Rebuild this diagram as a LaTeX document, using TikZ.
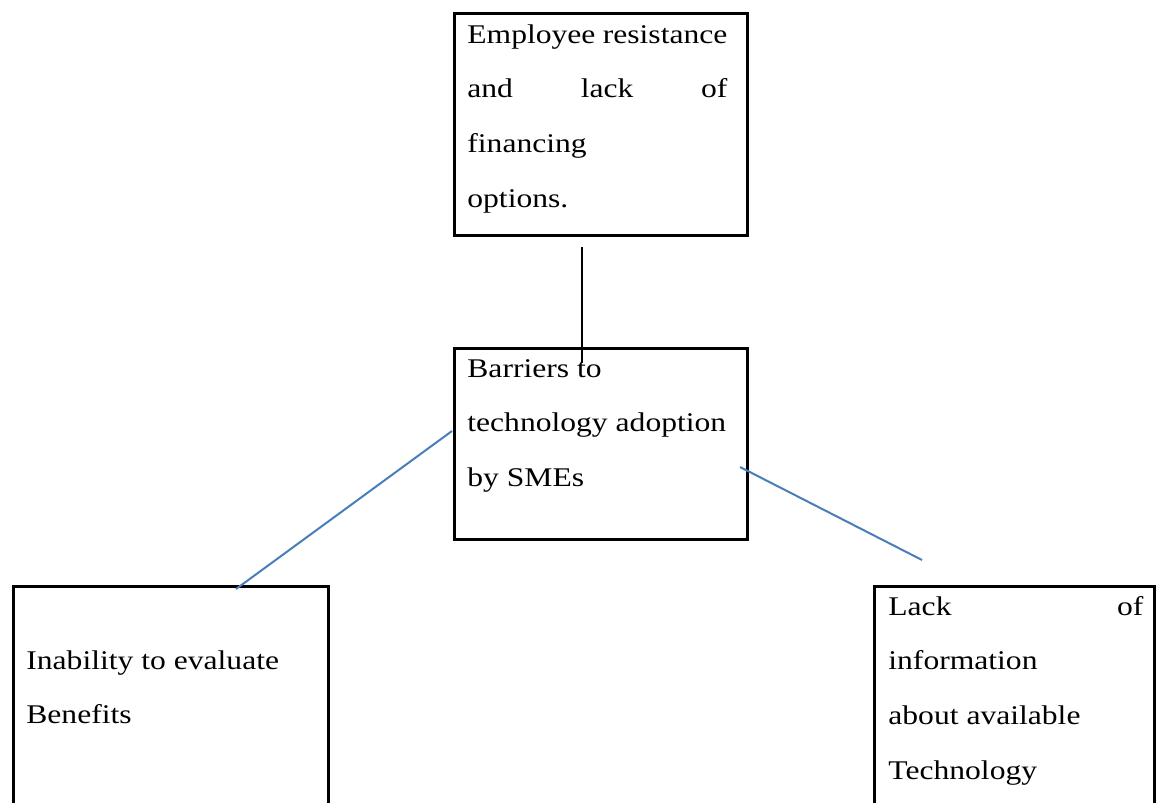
\documentclass[tikz,border=0pt]{standalone}
\usepackage{fontspec}
\setmainfont{Liberation Serif}[FakeStretch=1.17]
\tikzset{
  x=0.5pt, y=-0.5pt,
  box/.style={draw=black, line width=1.5pt, anchor=north west, inner sep=0pt, fill=none},
  txt/.style={anchor=base west, inner sep=0pt, font=\fontsize{13.5pt}{27.4pt}\selectfont},
  stem/.style={draw=black, line width=1pt},
  spoke/.style={draw=linkblue, line width=1pt},
}
\definecolor{linkblue}{RGB}{74,126,187}
\newcommand\fullline[1]{\makebox[\linewidth][s]{#1}}
\begin{document}
\begin{tikzpicture}
  \useasboundingbox (0,0) rectangle (1162,803);
  \fill[white] (0,0) rectangle (1162,803);
  \clip (0,0) rectangle (1162,803);

  % boxes
  \node[box, minimum width=146.5pt, minimum height=111pt] (cause) at (453,12) {};
  \node[box, minimum width=146.5pt, minimum height=95.5pt] (core) at (453,347) {};
  \node[box, minimum width=157.5pt, minimum height=125pt] (benefit) at (12,585) {};
  \node[box, minimum width=140pt, minimum height=125pt] (info) at (873,585) {};

  % box texts
  \node[txt] (causetext) at (467,43) {\parbox[t]{130pt}{\raggedright
      Employee resistance\\
      \fullline{and\hfill lack\hfill of}\\
      financing\\
      options.}};
  \node[txt] (coretext) at (467,377) {\parbox[t]{134pt}{\raggedright
      Barriers to\\
      technology adoption\\
      by SMEs}};
  \node[txt] (benefittext) at (26,669) {\parbox[t]{140pt}{\raggedright
      Inability to evaluate\\
      Benefits}};
  \node[txt] (infotext) at (888,615) {\parbox[t]{127.5pt}{\raggedright
      \fullline{Lack\hfill of}\\
      information\\
      about available\\
      Technology}};

  % connector ends
  \coordinate (causeend) at (582,247);
  \coordinate (coretop) at (582,363);
  \coordinate (coreleft) at (452,431);
  \coordinate (benefitend) at (236,589);
  \coordinate (coreright) at (740,467);
  \coordinate (infoend) at (922,560);

  % connectors
  \draw[stem] (causeend) -- (coretop);
  \draw[spoke] (coreleft) -- (benefitend);
  \draw[spoke] (coreright) -- (infoend);
\end{tikzpicture}
\end{document}
